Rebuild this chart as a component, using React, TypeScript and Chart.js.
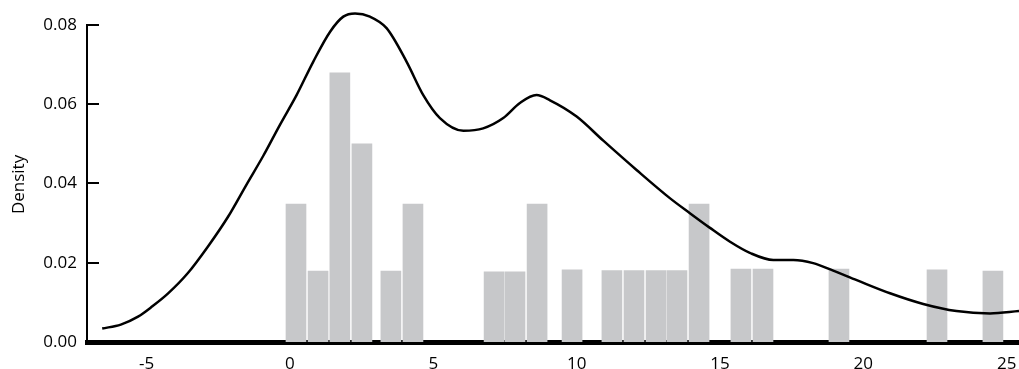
import React, { useEffect, useRef } from "react";
import { Chart, registerables } from "chart.js";
Chart.register(...registerables);

// Histogram-like bars (x position, density)
const barX = [0.21, 0.98, 1.74, 2.51, 3.52, 4.29, 7.12, 7.85, 8.62, 9.84, 11.23, 12.0, 12.77, 13.5, 14.27, 15.73, 16.5, 19.15, 22.57, 24.52];
const barHeights = [0.0348, 0.0179, 0.0679, 0.05, 0.0179, 0.0348, 0.0177, 0.0177, 0.0348, 0.0182, 0.018, 0.018, 0.018, 0.018, 0.0348, 0.0184, 0.0184, 0.0184, 0.0182, 0.0179];

// Density curve
const curveX = [-6.55, -5.9, -5.3, -4.8, -4.26, -3.56, -2.86, -2.16, -1.51, -0.93, -0.35, 0.23, 0.81, 1.4, 1.86, 2.27, 2.79, 3.37, 4.07, 4.65, 5.23, 6.05, 6.74, 7.44, 8.02, 8.6, 9.07, 10.0, 10.93, 12.09, 13.25, 13.95, 14.65, 15.35, 16.04, 16.86, 17.56, 18.25, 18.95, 19.77, 20.93, 22.09, 23.25, 24.42, 25.43];
const curveY = [0.0034, 0.0044, 0.0064, 0.009, 0.0122, 0.0174, 0.0241, 0.0316, 0.0398, 0.047, 0.0548, 0.0623, 0.0707, 0.0783, 0.0821, 0.0829, 0.0821, 0.0792, 0.0707, 0.0623, 0.0565, 0.0533, 0.0539, 0.0565, 0.0603, 0.0623, 0.061, 0.0569, 0.0508, 0.0434, 0.0363, 0.0325, 0.0288, 0.0253, 0.0225, 0.0207, 0.0207, 0.0199, 0.018, 0.0156, 0.0123, 0.0096, 0.0078, 0.0072, 0.0078];

const xTicks = [-5, 0, 5, 10, 15, 20, 25];
const yTicks = [0, 0.02, 0.04, 0.06, 0.08];
const yTitle = "Density";
const xMin = -7.08;
const xMax = 25.43;
const yMax = 0.0863;

const FONT = "'Open Sans', sans-serif";

const axisPlugin = {
  id: "rStyleAxis",
  afterDraw(chart: any) {
    const y = chart.scales.y;
    const ctx = chart.ctx;
    const x0 = chart.chartArea.left;
    const ticks = y.ticks;
    const top = y.getPixelForValue(ticks[ticks.length - 1].value);
    const bot = y.getPixelForValue(ticks[0].value);
    ctx.save();
    ctx.strokeStyle = "#000";
    ctx.lineWidth = 2;
    ctx.beginPath();
    ctx.moveTo(x0, top - 1);
    ctx.lineTo(x0, bot);
    ticks.forEach((t: any) => {
      const py = Math.round(y.getPixelForValue(t.value));
      ctx.moveTo(x0 - 1, py);
      ctx.lineTo(x0 + 12, py);
    });
    ctx.stroke();
    // axis title, centred on the drawn axis line
    ctx.fillStyle = "#000";
    ctx.font = `17px ${FONT}`;
    ctx.textAlign = "center";
    ctx.textBaseline = "middle";
    ctx.translate(y.left + 19, (top + bot) / 2 + 1);
    ctx.rotate(-Math.PI / 2);
    ctx.fillText(yTitle, 0, 0);
    ctx.restore();
  },
};

const noPad = (s: any) => {
  s.paddingTop = 0;
  s.paddingBottom = 0;
  s.paddingLeft = 0;
  s.paddingRight = 0;
};

export default function App() {
  const ref = useRef<HTMLCanvasElement | null>(null);
  useEffect(() => {
    if (!ref.current) return;
    const chart = new Chart(ref.current, {
      type: "bar",
      data: {
        datasets: [
          {
            type: "line",
            data: curveX.map((x, i) => ({ x, y: curveY[i] })),
            borderColor: "#000",
            borderWidth: 2.5,
            pointRadius: 0,
            cubicInterpolationMode: "monotone",
            fill: false,
            order: 0,
          } as any,
          {
            type: "bar",
            data: barX.map((x, i) => ({ x, y: barHeights[i] })),
            backgroundColor: "#c7c8ca",
            borderWidth: 0,
            barThickness: 20,
            grouped: false,
            order: 1,
          } as any,
        ],
      },
      options: {
        animation: false,
        responsive: true,
        maintainAspectRatio: false,
        layout: { padding: 0 },
        plugins: { legend: { display: false }, tooltip: { enabled: false } },
        scales: {
          x: {
            type: "linear",
            min: xMin,
            max: xMax,
            offset: false,
            z: 1,
            afterBuildTicks: (s: any) => {
              s.ticks = xTicks.map((v) => ({ value: v }));
            },
            afterFit: (s: any) => {
              s.height = 27;
              noPad(s);
            },
            grid: { display: false, drawTicks: false },
            border: { display: true, color: "#000", width: 5 },
            ticks: {
              color: "#000",
              font: { family: FONT, size: 17 },
              padding: 12,
              maxRotation: 0,
              autoSkip: false,
            },
          },
          y: {
            type: "linear",
            min: 0,
            max: yMax,
            afterBuildTicks: (s: any) => {
              s.ticks = yTicks.map((v) => ({ value: v }));
            },
            afterFit: (s: any) => {
              s.width = 87;
              noPad(s);
            },
            grid: { display: false, drawTicks: false },
            border: { display: false },
            ticks: {
              color: "#000",
              font: { family: FONT, size: 17 },
              padding: 10,
              callback: (v: any) => Number(v).toFixed(2),
            },
            title: { display: false },
          },
        },
      },
      plugins: [axisPlugin],
    });
    return () => chart.destroy();
  }, []);
  return (
    <div style={{ position: "fixed", left: 0, top: 0, width: 1019, height: 369 }}>
      <canvas ref={ref} />
    </div>
  );
}
